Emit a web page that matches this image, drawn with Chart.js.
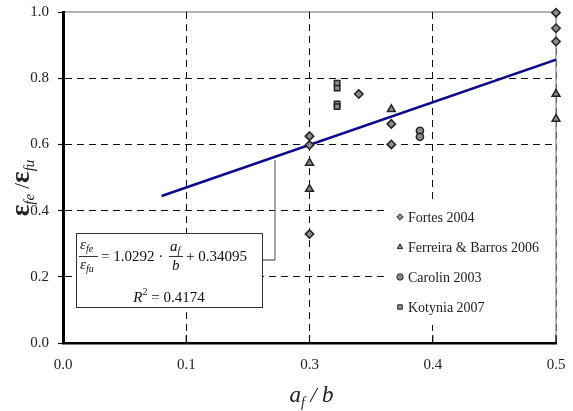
<!DOCTYPE html>
<html>
<head>
<meta charset="utf-8">
<script src="https://cdn.jsdelivr.net/npm/chart.js@4.4.1/dist/chart.umd.min.js"></script>
<style>
  html, body { margin: 0; padding: 0; background: #fff; }
  #wrap { width: 573px; height: 411px; position: relative; }
</style>
</head>
<body>
<div id="wrap"><canvas id="chart"></canvas></div>
<script>
// tick labels as printed on the original x axis
const xTickLabels = ["0.0", "0.1", "0.3", "0.4", "0.5"];

const fortesX = [0.25, 0.25, 0.25, 0.30, 0.333, 0.333, 0.5, 0.5, 0.5];
const fortesY = [0.625, 0.598, 0.329, 0.752, 0.662, 0.600, 0.998, 0.951, 0.911];

const ferreiraX = [0.25, 0.25, 0.333, 0.5, 0.5];
const ferreiraY = [0.544, 0.465, 0.706, 0.752, 0.677];

const carolinX = [0.362, 0.362];
const carolinY = [0.641, 0.623];

const kotyniaX = [0.278, 0.278, 0.278, 0.278];
const kotyniaY = [0.785, 0.770, 0.722, 0.714];

const fitX = [0.1, 0.5];
const fitY = [0.444, 0.856];

const toPoints = (xs, ys) => xs.map((x, i) => ({ x: x, y: ys[i] }));

const SERIF = "'Liberation Serif', 'Times New Roman', serif";

function markerSet(label, xs, ys, style, radius) {
	return {
		type: "scatter",
		label: label,
		data: toPoints(xs, ys),
		pointStyle: style,
		pointRadius: radius,
		pointHoverRadius: radius,
		backgroundColor: "#8c8c8c",
		borderColor: "#222",
		borderWidth: 1.5,
		clip: false,
		order: 1,
	};
}

// draws a run of text pieces (with sub/superscripts) starting at x
function drawRuns(ctx, runs, x, y, align) {
	let total = 0;
	runs.forEach((r) => {
		ctx.font = r.font;
		r.w = ctx.measureText(r.t).width;
		total += r.w;
	});
	let cx = align === "center" ? x - total / 2 : x;
	ctx.textAlign = "left";
	ctx.textBaseline = "alphabetic";
	runs.forEach((r) => {
		ctx.font = r.font;
		ctx.fillText(r.t, cx, y + (r.dy || 0));
		cx += r.w;
	});
	return total;
}

const decor = {
	id: "decor",
	beforeDraw(chart) {
		const { ctx, chartArea: a } = chart;
		ctx.save();
		ctx.fillStyle = "#fff";
		ctx.fillRect(0, 0, chart.width, chart.height);
		ctx.strokeStyle = "#9a9a9a";
		ctx.lineWidth = 1.5;
		ctx.beginPath();
		ctx.moveTo(a.left, a.top);
		ctx.lineTo(a.right, a.top);
		ctx.lineTo(a.right, a.bottom);
		ctx.stroke();
		ctx.restore();
	},
	afterDatasetsDraw(chart) {
		const { ctx, chartArea: a, scales } = chart;
		const xs = scales.x;
		const ys = scales.y;
		ctx.save();

		// short solid ticks pointing up into the plot
		ctx.strokeStyle = "#111";
		ctx.lineWidth = 1.2;
		xs.ticks.forEach((t) => {
			if (t.value === 0) return;
			const px = xs.getPixelForValue(t.value);
			ctx.beginPath();
			ctx.moveTo(px, a.bottom);
			ctx.lineTo(px, a.bottom - 8);
			ctx.stroke();
		});

		// legend
		const lgLeft = a.right - 168;
		const lgTop = a.top + 188;
		ctx.fillStyle = "#fff";
		ctx.fillRect(lgLeft, lgTop, 167, 125);
		const items = chart.data.datasets.filter((d) => d.type === "scatter");
		items.forEach((d, i) => {
			const cy = lgTop + 17 + i * 30;
			ctx.fillStyle = "#8c8c8c";
			ctx.strokeStyle = "#222";
			ctx.lineWidth = 1;
			Chart.helpers.drawPoint(
				ctx,
				{ pointStyle: d.pointStyle, radius: 3.2, borderWidth: 1, rotation: 0 },
				lgLeft + 12,
				cy
			);
			ctx.fillStyle = "#222";
			ctx.font = "14px " + SERIF;
			ctx.textAlign = "left";
			ctx.textBaseline = "middle";
			ctx.fillText(d.label, lgLeft + 20, cy + 1);
		});

		// leader from the fit line to the equation box
		const lx = xs.getPixelForValue(0.215);
		const ly = ys.getPixelForValue(1.0292 * 0.215 + 0.34095);
		const boxL = a.left + 13;
		const boxT = a.top + 221;
		const boxW = 186;
		const boxH = 74;
		ctx.strokeStyle = "#8a8a8a";
		ctx.lineWidth = 1.5;
		ctx.beginPath();
		ctx.moveTo(lx, ly + 3);
		ctx.lineTo(lx, boxT + 27);
		ctx.stroke();
		ctx.strokeStyle = "#333";
		ctx.lineWidth = 1;
		ctx.beginPath();
		ctx.moveTo(lx, boxT + 27);
		ctx.lineTo(boxL + boxW, boxT + 27);
		ctx.stroke();

		// equation box
		ctx.fillStyle = "#fff";
		ctx.fillRect(boxL, boxT, boxW, boxH);
		ctx.strokeStyle = "#333";
		ctx.lineWidth = 1;
		ctx.strokeRect(boxL + 0.5, boxT + 0.5, boxW, boxH);

		ctx.fillStyle = "#111";
		const it = "italic 15px " + SERIF;
		const sub = "italic 10px " + SERIF;
		const rm = "15px " + SERIF;
		const fx = boxL + 4;
		drawRuns(ctx, [{ t: "ε", font: it }, { t: "fe", font: sub, dy: 3 }], fx, boxT + 16);
		ctx.beginPath();
		ctx.moveTo(fx - 1, boxT + 23.5);
		ctx.lineTo(fx + 18, boxT + 23.5);
		ctx.stroke();
		drawRuns(ctx, [{ t: "ε", font: it }, { t: "fu", font: sub, dy: 3 }], fx, boxT + 36);
		drawRuns(ctx, [{ t: "= 1.0292 ·", font: rm }], boxL + 25, boxT + 28);
		const ax = boxL + 94;
		drawRuns(ctx, [{ t: "a", font: it }, { t: "f", font: sub, dy: 3 }], ax, boxT + 18);
		ctx.beginPath();
		ctx.moveTo(ax - 1, boxT + 23.5);
		ctx.lineTo(ax + 13, boxT + 23.5);
		ctx.stroke();
		drawRuns(ctx, [{ t: "b", font: it }], ax + 2, boxT + 37);
		drawRuns(ctx, [{ t: "+ 0.34095", font: rm }], boxL + 110, boxT + 28);
		drawRuns(
			ctx,
			[
				{ t: "R", font: it },
				{ t: "2", font: "10px " + SERIF, dy: -7 },
				{ t: " = 0.4174", font: rm },
			],
			boxL + 93,
			boxT + 69,
			"center"
		);

		ctx.restore();
	},
	afterDraw(chart) {
		const { ctx, chartArea: a } = chart;
		ctx.save();
		ctx.fillStyle = "#222";
		// x title
		drawRuns(
			ctx,
			[
				{ t: "a", font: "italic 23px " + SERIF },
				{ t: "f", font: "italic 14px " + SERIF, dy: 5 },
				{ t: " / ", font: "italic 22px " + SERIF },
				{ t: "b", font: "italic 23px " + SERIF },
			],
			(a.left + a.right) / 2 + 2,
			402,
			"center"
		);
		// y title
		ctx.translate(29, 188);
		ctx.rotate(-Math.PI / 2);
		drawRuns(
			ctx,
			[
				{ t: "ε", font: "bold 27px " + SERIF },
				{ t: "fe", font: "italic 15px " + SERIF, dy: 5 },
				{ t: " /", font: "21px " + SERIF },
				{ t: "ε", font: "bold 27px " + SERIF },
				{ t: "fu", font: "italic 15px " + SERIF, dy: 5 },
			],
			0,
			0,
			"center"
		);
		ctx.restore();
	},
};

const ctx = document.getElementById("chart").getContext("2d");
new Chart(ctx, {
	data: {
		datasets: [
			markerSet("Fortes 2004", fortesX, fortesY, "rectRot", 4.2),
			markerSet("Ferreira & Barros 2006", ferreiraX, ferreiraY, "triangle", 4.5),
			markerSet("Carolin 2003", carolinX, carolinY, "circle", 3.6),
			markerSet("Kotynia 2007", kotyniaX, kotyniaY, "rect", 3.8),
			{
				type: "line",
				label: "fit",
				data: toPoints(fitX, fitY),
				borderColor: "#0a0a8a",
				borderWidth: 2.5,
				pointRadius: 0,
				fill: false,
				order: 2,
			},
		],
	},
	options: {
		responsive: true,
		maintainAspectRatio: false,
		animation: false,
		layout: { padding: { left: 0, right: 17, top: 12, bottom: 0 } },
		plugins: {
			legend: { display: false },
			tooltip: { enabled: false },
		},
		scales: {
			x: {
				type: "linear",
				min: 0,
				max: 0.5,
				afterFit: (scale) => {
					scale.height = 68;
					scale.paddingLeft = 0;
					scale.paddingRight = 0;
				},
				ticks: {
					stepSize: 0.125,
					padding: 13,
					color: "#222",
					font: { family: SERIF, size: 15 },
					callback: (v, i) => xTickLabels[i],
				},
				grid: {
					drawTicks: false,
					lineWidth: 1,
					color: (c) =>
						c.tick.value === 0 ? "rgba(0,0,0,0)" : c.tick.value === 0.5 ? "#666" : "#111",
				},
				border: { color: "#000", width: 2.5, dash: [7, 5] },
			},
			y: {
				type: "linear",
				min: 0,
				max: 1,
				afterFit: (scale) => {
					scale.width = 63;
					scale.paddingTop = 0;
					scale.paddingBottom = 0;
				},
				ticks: {
					stepSize: 0.2,
					padding: 9,
					color: "#222",
					font: { family: SERIF, size: 15 },
					callback: (v) => v.toFixed(1),
				},
				grid: {
					lineWidth: 1,
					color: (c) =>
						c.tick.value === 0 || c.tick.value === 1 ? "rgba(0,0,0,0)" : "#111",
					tickColor: "#111",
					tickLength: 5,
					tickWidth: 1.2,
					tickBorderDash: [],
				},
				border: { color: "#000", width: 3, dash: [7, 5] },
			},
		},
	},
	plugins: [decor],
});
</script>
</body>
</html>
